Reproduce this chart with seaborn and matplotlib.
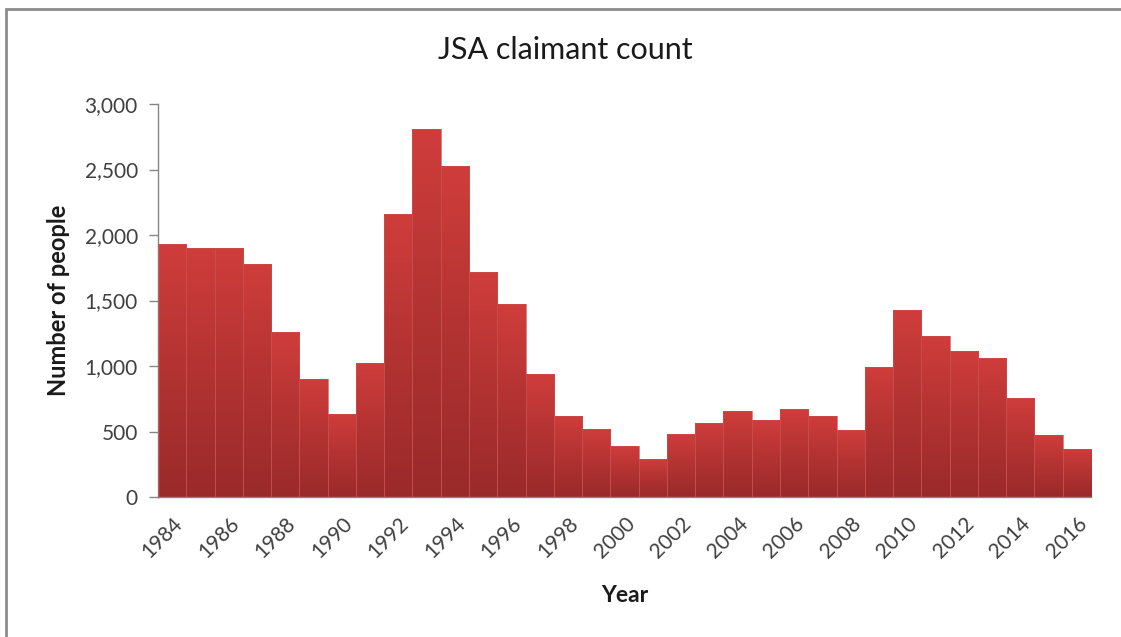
import numpy as np
import pandas as pd
import seaborn as sns
import matplotlib.pyplot as plt
from matplotlib.colors import LinearSegmentedColormap
from matplotlib.patches import Rectangle
from matplotlib.ticker import FuncFormatter, MultipleLocator

# JSA claimants per year
years = list(range(1984, 2017))
claimants = [1928, 1902, 1902, 1780, 1256, 901, 632, 1024, 2157, 2807,
             2526, 1714, 1470, 940, 622, 520, 387, 293, 481, 568,
             660, 584, 668, 622, 510, 996, 1424, 1230, 1118, 1062,
             752, 471, 370]
tick_years = years[::2]

df = pd.DataFrame({"Year": years, "Claimants": claimants})

sns.set_theme(style="white")
plt.rcParams["font.family"] = ["Lato", "DejaVu Sans"]

fig = plt.figure(figsize=(11.21, 6.37), dpi=100)
ax = fig.add_axes([158 / 1121, 1 - 497 / 637, 933 / 1121, 393 / 637])

sns.barplot(data=df, x="Year", y="Claimants", color="#B83433",
            width=1.0, saturation=1, ax=ax)

# vertical gradient fill for each bar, light on top and dark at the base
cmap = LinearSegmentedColormap.from_list("bar", ["#9A2A2A", "#B23332", "#CF3D3B"])
grad = np.linspace(0, 1, 256).reshape(-1, 1)
for p in ax.patches:
    x0, w, h = p.get_x(), p.get_width(), p.get_height()
    im = ax.imshow(grad, cmap=cmap, extent=[x0, x0 + w, 0, h], origin="lower",
                   aspect="auto", zorder=2, interpolation="bilinear")
    im.set_clip_path(p)
    p.set_facecolor("none")
    p.set_edgecolor("#C8504D")
    p.set_linewidth(0.5)
    p.set_zorder(3)

ax.set_xlim(-0.5, len(years) - 0.5)
ax.set_ylim(0, 3000)
ax.set_aspect("auto")

ax.yaxis.set_major_locator(MultipleLocator(500))
ax.yaxis.set_major_formatter(FuncFormatter(lambda v, _: f"{v:,.0f}"))
ax.set_xticks(range(0, len(years), 2))
ax.set_xticklabels([str(y) for y in tick_years], rotation=45, ha="right",
                   rotation_mode="anchor")

ax.tick_params(axis="y", which="major", left=True, length=6.5, width=1,
               color="#868686", labelsize=15, labelcolor="#404040", pad=8)
ax.tick_params(axis="x", which="major", bottom=False, labelsize=15,
               labelcolor="#404040", pad=6)

for side in ("top", "right"):
    ax.spines[side].set_visible(False)
for side in ("left", "bottom"):
    ax.spines[side].set_color("#868686")
    ax.spines[side].set_linewidth(1)

ax.set_xlabel("Year", fontsize=16.5, fontweight="bold", color="#1a1a1a", va="center")
ax.xaxis.set_label_coords(0.5, (497 - 596) / 393)
ax.set_ylabel("Number of people", fontsize=17, fontweight="bold",
              color="#1a1a1a", va="center")
ax.yaxis.set_label_coords((58 - 158) / 933, 0.5)

fig.text(0.504, 1 - 50 / 637, "JSA claimant count", ha="center", va="center",
         fontsize=22, color="#1a1a1a")

# chart frame
fig.add_artist(Rectangle((6 / 1121, -0.1), 1.2, 1 - 9 / 637 + 0.1,
                         transform=fig.transFigure, fill=False,
                         edgecolor="#8C8C8C", linewidth=2))

fig.savefig("out.png", dpi=100)
